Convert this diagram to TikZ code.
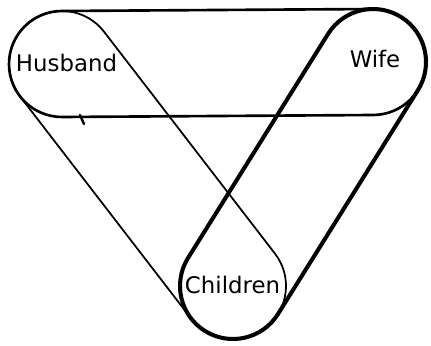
\documentclass[tikz,border=0pt]{standalone}
\usepackage{fontspec}
\setmainfont{DejaVu Sans}
\usepackage{tikz}
\usetikzlibrary{calc}

\begin{document}
\begin{tikzpicture}[
    x=0.02cm, y=0.02cm,
    thinloop/.style={draw=black, line width=1pt, line join=round},
    midloop/.style={draw=black, line width=1.5pt, line join=round},
    boldloop/.style={draw=black, line width=2.3pt, line join=round},
    who/.style={font=\fontsize{13}{15}\selectfont, anchor=base, inner sep=0pt}
]
\useasboundingbox (0,0) rectangle (431,345);
% circle centres
\coordinate (H) at (62,281);
\coordinate (W) at (373,283);
\coordinate (C) at (233,59);

% husband -- children
\draw[thinloop] ($(H)+(37.6:53)$) arc[start angle=37.6, end angle=217.6, radius=53]
    -- ($(C)+(-142.4:53)$) arc[start angle=-142.4, end angle=37.6, radius=53] -- cycle;
% husband -- wife
\draw[midloop] ($(H)+(90.4:53)$) arc[start angle=90.4, end angle=270.4, radius=53]
    -- ($(W)+(-89.6:53)$) arc[start angle=-89.6, end angle=90.4, radius=53] -- cycle;
% wife -- children
\draw[boldloop] ($(W)+(-32:53)$) arc[start angle=-32, end angle=148, radius=53]
    -- ($(C)+(148:53)$) arc[start angle=-212, end angle=-32, radius=53] -- cycle;
\draw[line width=1.4pt, line cap=round] (80,230) -- (84,221);

\node[who] (husband) at (66.5,273) {Husband};
\node[who] (wife) at (375,277) {Wife};
\node[who] (children) at (232.5,52) {Children};
\end{tikzpicture}
\end{document}
